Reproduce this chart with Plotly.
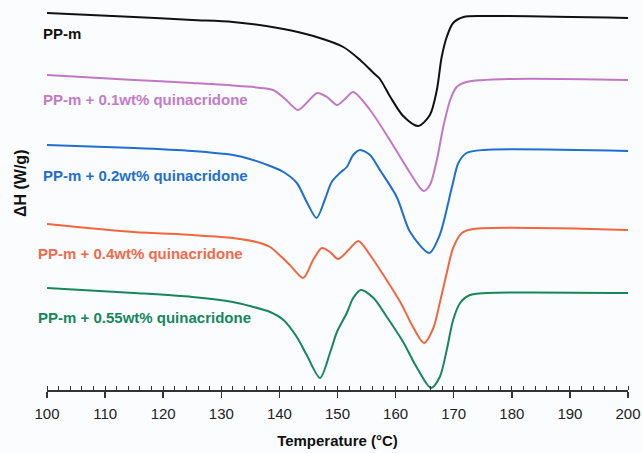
import plotly.graph_objects as go

# ---------------- data ----------------
# y values: relative heat-flow level (arbitrary units, endotherm downwards)
temp_pp = [100, 115, 125, 132, 140.7, 146.4, 151, 153.9, 156.2, 157.3, 159.1, 161.3,
           163.9, 165.9, 167.1, 167.9, 168.8, 169.9, 171.7, 175, 200]
dh_pp = [13, 17, 20, 22, 29, 37, 47, 60, 73, 79, 97, 116,
         126, 115, 90, 58, 37, 23, 17, 16, 18]

temp_01 = [100, 115, 125, 133, 138.9, 141, 143.2, 145, 146.5, 148.2, 149.9, 151.3,
           152.7, 155.6, 159, 162.5, 164.8, 165.9, 167.1, 168.2, 169.4, 170.5, 172.2, 180, 200]
dh_01 = [75, 80, 83, 86, 90, 99, 110, 101, 93, 97, 105, 99,
         92, 110, 140, 173, 191, 185, 160, 127, 100, 87, 82, 79, 80]

temp_02 = [100, 115, 125, 132, 134.9, 138.4, 140.7, 143, 144.7, 146.4, 147.8, 149, 150.4,
           151.6, 152.7, 153.9, 155.6, 157.3, 160.2, 162.5, 165.8, 167.6, 169.7, 170.8,
           172.2, 175.1, 200]
dh_02 = [145, 148, 151, 155, 159, 166, 172, 183, 202, 218, 200, 182, 173,
         167, 155, 150, 155, 170, 197, 232, 253, 235, 187, 163,
         153, 150, 151]

temp_04 = [100, 114.9, 125, 132, 136.7, 138.4, 141.8, 144.1, 145.8, 147.3, 148.7, 150.1,
           151.9, 153.6, 155.6, 157.9, 160.8, 163, 164.9, 166.5, 167.6, 168.8, 169.9, 171.4, 173.4, 200]
dh_04 = [224, 232, 235, 238, 243, 247, 265, 278, 260, 248, 252, 259,
         250, 241, 255, 275, 302, 327, 343, 328, 303, 273, 248, 233, 229, 230]

temp_055 = [100, 115, 125, 132, 134.9, 138.4, 140.7, 143, 144.7, 147, 148.7, 149.9,
            151.6, 152.7, 154, 156.2, 158.5, 161.3, 163.6, 166.1, 167.6, 168.8,
            169.9, 171.1, 172.8, 175.7, 200]
dh_055 = [288, 293, 297, 302, 306, 312, 320, 337, 355, 378, 353, 332,
          313, 298, 290, 298, 317, 342, 367, 388, 377, 350,
          320, 303, 295, 293, 293]

series_names = ["PP-m",
                "PP-m + 0.1wt% quinacridone",
                "PP-m + 0.2wt% quinacridone",
                "PP-m + 0.4wt% quinacridone",
                "PP-m + 0.55wt% quinacridone"]
x_ticks = list(range(100, 201, 10))
x_title = "Temperature (°C)"
y_title = "ΔH (W/g)"

# ---------------- styling / layout ----------------
line_colors = ["#111111", "#c277c6", "#1e6fcf", "#f2663f", "#16875a"]
text_colors = ["#111111", "#c47bc8", "#1e6fcf", "#f26a4b", "#16875a"]
FONT = "Liberation Sans, Arial, Helvetica, sans-serif"

W, H = 642, 453
PLOT_L, PLOT_R = 47, 628           # pixel x of the x-axis ends
PLOT_W = PLOT_R - PLOT_L
AXIS_Y = 390                       # pixel y of the x-axis line
# label positions: (pixel x of left edge, level)
label_pos = [(41, 33), (41, 99), (41, 175), (36, 253), (36, 317)]
ytitle_px = 20

temps = [temp_pp, temp_01, temp_02, temp_04, temp_055]
dhs = [dh_pp, dh_01, dh_02, dh_04, dh_055]

fig = go.Figure()
for name, t, d, c in zip(series_names, temps, dhs, line_colors):
    fig.add_trace(go.Scatter(
        x=t, y=d, name=name, mode="lines",
        line=dict(color=c, width=2, shape="spline", smoothing=0.8),
        showlegend=False, cliponaxis=False, hoverinfo="skip",
    ))

for name, (px, ly), c in zip(series_names, label_pos, text_colors):
    fig.add_annotation(
        x=(px - PLOT_L) / PLOT_W, y=ly, xref="paper", yref="y",
        text=name, showarrow=False, xanchor="left", yanchor="middle",
        font=dict(family=FONT, size=15, color=c, weight="bold"),
    )

fig.add_annotation(
    x=(ytitle_px - PLOT_L) / PLOT_W, y=184, xref="paper", yref="y",
    text=y_title, showarrow=False, textangle=-90,
    xanchor="center", yanchor="middle",
    font=dict(family=FONT, size=16, color="#111111", weight="bold"),
)

fig.update_layout(
    width=W, height=H,
    margin=dict(l=PLOT_L, r=W - PLOT_R, t=0, b=H - AXIS_Y),
    paper_bgcolor="#fbfcfe",
    plot_bgcolor="#fbfcfe",
    font=dict(family=FONT, color="#222222"),
    hovermode=False,
    xaxis=dict(
        range=[100, 200],
        tickvals=x_ticks,
        ticks="outside", ticklen=6, tickwidth=1.5, tickcolor="#333333",
        ticklabelstandoff=3,
        showline=True, linecolor="#333333", linewidth=1.5,
        showgrid=False, zeroline=False,
        tickfont=dict(family=FONT, size=15, color="#222222"),
        minor=dict(dtick=2, tick0=100, ticks="inside", ticklen=4,
                   tickwidth=1, tickcolor="#333333", showgrid=False),
        title=dict(text=x_title, standoff=15,
                   font=dict(family=FONT, size=15, color="#111111", weight="bold")),
    ),
    xaxis2=dict(
        overlaying="x", matches="x", anchor="y", side="bottom",
        tickvals=x_ticks, ticks="inside", ticklen=5, tickwidth=1.5,
        tickcolor="#333333", showticklabels=False, showline=False,
        showgrid=False, zeroline=False,
    ),
    yaxis=dict(
        range=[AXIS_Y, 0], showticklabels=False, ticks="",
        showline=False, showgrid=False, zeroline=False,
    ),
)

fig.write_html(
    "out.html",
    config={"displayModeBar": False, "staticPlot": True},
    post_script="document.body.style.margin='0';"
                "document.documentElement.style.overflow='hidden';",
)
